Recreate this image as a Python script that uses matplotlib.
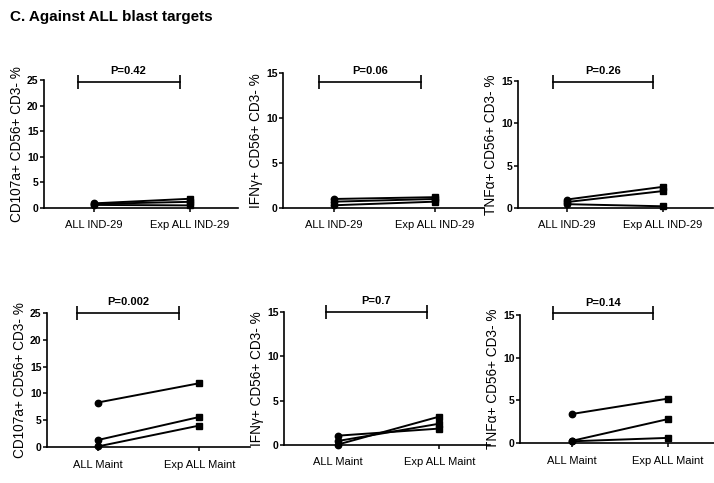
import matplotlib.pyplot as plt

plt.rcParams['font.family'] = ['Liberation Sans', 'DejaVu Sans']

# group labels
ind_groups = ['ALL IND-29', 'Exp ALL IND-29']
maint_groups = ['ALL Maint', 'Exp ALL Maint']

# top row: against ALL IND-29 (3 donors, before / after expansion)
cd107_ind_all = [0.9, 0.8, 0.6]
cd107_ind_exp = [1.8, 1.2, 0.5]
ifng_ind_all = [1.0, 0.7, 0.3]
ifng_ind_exp = [1.2, 1.0, 0.7]
tnfa_ind_all = [1.0, 0.7, 0.45]
tnfa_ind_exp = [2.5, 2.0, 0.2]

# bottom row: against ALL Maint
cd107_mt_all = [8.3, 1.3, 0.1]
cd107_mt_exp = [11.9, 5.6, 4.0]
ifng_mt_all = [1.05, 0.45, 0.05]
ifng_mt_exp = [1.85, 2.4, 3.2]
tnfa_mt_all = [3.4, 0.25, 0.2]
tnfa_mt_exp = [5.2, 2.8, 0.6]

p_values = ['P=0.42', 'P=0.06', 'P=0.26', 'P=0.002', 'P=0.7', 'P=0.14']
ylabels = ['CD107a+ CD56+ CD3- %', 'IFNγ+ CD56+ CD3- %', 'TNFα+ CD56+ CD3- %']
ymax = [25, 15, 15]

panels = [
    (ind_groups, cd107_ind_all, cd107_ind_exp),
    (ind_groups, ifng_ind_all, ifng_ind_exp),
    (ind_groups, tnfa_ind_all, tnfa_ind_exp),
    (maint_groups, cd107_mt_all, cd107_mt_exp),
    (maint_groups, ifng_mt_all, ifng_mt_exp),
    (maint_groups, tnfa_mt_all, tnfa_mt_exp),
]

# axes rectangles in figure fractions
rects = [
    [0.0616, 0.5694, 0.272, 0.265],
    [0.3964, 0.5694, 0.2815, 0.2795],
    [0.7255, 0.5694, 0.273, 0.263],
    [0.0658, 0.0745, 0.2843, 0.2774],
    [0.3978, 0.0787, 0.2885, 0.2754],
    [0.7283, 0.0828, 0.2717, 0.265],
]
xlims = [(-0.52, 1.5), (-0.5, 1.49), (-0.51, 1.52),
         (-0.5, 1.5), (-0.53, 1.5), (-0.54, 1.48)]
brackets = [(-0.17, 0.89, 24.7), (-0.14, 0.87, 14.0), (-0.15, 0.90, 14.9),
            (-0.2, 0.8, 25.0), (-0.12, 0.88, 15.0), (-0.2, 0.85, 15.2)]

fig = plt.figure(figsize=(7.14, 4.83), dpi=100)
fig.text(0.014, 0.965, 'C. Against ALL blast targets', fontsize=11,
         fontweight='bold', va='center', ha='left')

for i, (groups, before, after) in enumerate(panels):
    ax = fig.add_axes(rects[i])
    top = ymax[i % 3]
    for b, a in zip(before, after):
        ax.plot([0, 1], [b, a], color='black', lw=1.4, zorder=2, clip_on=False)
        ax.plot(0, b, marker='o', color='black', ms=4.6, zorder=3, clip_on=False)
        ax.plot(1, a, marker='s', color='black', ms=4.6, zorder=3, clip_on=False)

    ax.set_xlim(*xlims[i])
    ax.set_ylim(0, top)
    ax.set_xticks([0, 1])
    ax.set_xticklabels(groups, fontsize=8)
    ax.set_yticks(range(0, top + 1, 5))
    for lab in ax.get_yticklabels():
        lab.set_fontweight('bold')
        lab.set_fontsize(7.5)
    ax.tick_params(axis='both', direction='out', length=3, width=1.1, pad=1)
    ax.tick_params(axis='x', pad=6)
    ax.set_ylabel(ylabels[i % 3], fontsize=9.8, labelpad=2)
    for side in ['top', 'right']:
        ax.spines[side].set_visible(False)
    for side in ['left', 'bottom']:
        ax.spines[side].set_linewidth(1.2)

    x0, x1, y = brackets[i]
    ax.plot([x0, x1], [y, y], color='black', lw=1.2, clip_on=False)
    ax.plot([x0, x1], [y, y], color='black', marker='|', ms=10, mew=1.2,
            linestyle='none', clip_on=False)
    ax.annotate(p_values[i], xy=((x0 + x1) / 2, y), xytext=(0, 4),
                textcoords='offset points', ha='center', va='bottom',
                fontsize=8, fontweight='bold', annotation_clip=False)

fig.savefig('out.png', dpi=100)
